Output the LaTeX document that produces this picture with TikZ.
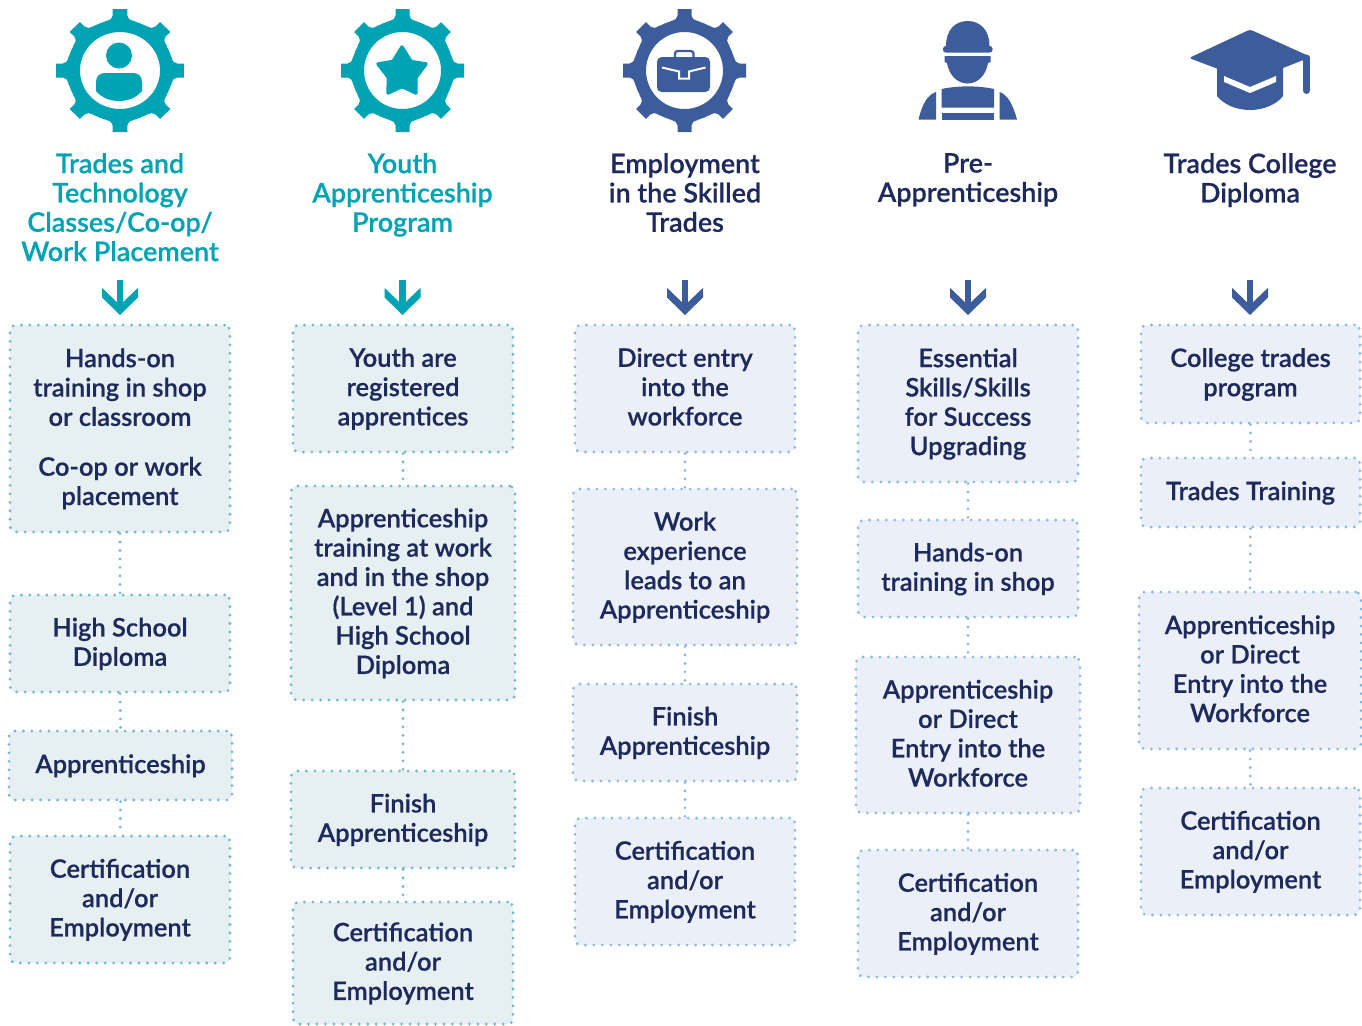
\documentclass[tikz,border=0pt]{standalone}
\usepackage{fontspec}
\setmainfont[FakeBold=0.5]{Lato Semibold}
\usetikzlibrary{arrows.meta}
\definecolor{teal}{HTML}{00A3B4}
\definecolor{blueic}{HTML}{3C5C9B}
\definecolor{navy}{HTML}{1F2A5C}
\definecolor{tfill}{HTML}{E6F0F3}
\definecolor{tdot}{HTML}{6DB9CB}
\definecolor{bfill}{HTML}{EBF0F8}
\definecolor{bdot}{HTML}{8CB8E2}
\pgfdeclarearrow{name=Chevron,
  setup code={\pgfarrowssettipend{0pt}\pgfarrowssetlineend{-6pt}\pgfarrowssetbackend{-15.2pt}\pgfarrowssetvisualbackend{-6pt}},
  drawing code={%
    \pgfpathmoveto{\pgfqpoint{0pt}{0pt}}%
    \pgfpathlineto{\pgfqpoint{-13.2pt}{13.5pt}}%
    \pgfpathlineto{\pgfqpoint{-20.4pt}{13.5pt}}%
    \pgfpathlineto{\pgfqpoint{-9.8pt}{2.5pt}}%
    \pgfpathlineto{\pgfqpoint{-9.8pt}{-2.5pt}}%
    \pgfpathlineto{\pgfqpoint{-20.4pt}{-13.5pt}}%
    \pgfpathlineto{\pgfqpoint{-13.2pt}{-13.5pt}}%
    \pgfpathclose\pgfusepathqfill},
  defaults={}}
\tikzset{
  x=0.75pt,y=-0.75pt,
  bx/.style={rounded corners=4pt,line width=2.3pt,dash pattern=on 0pt off 6.35pt,line cap=round,
    text=navy,font=\fontsize{19.1}{22}\selectfont,inner sep=0pt},
  tealbox/.style={bx,draw=tdot,fill=tfill},
  bluebox/.style={bx,draw=bdot,fill=bfill},
  tealconn/.style={draw=tdot,line width=2.3pt,dash pattern=on 0pt off 6.35pt,line cap=round},
  blueconn/.style={draw=bdot,line width=2.3pt,dash pattern=on 0pt off 6.35pt,line cap=round},
  ttl/.style={align=center,anchor=north,inner sep=0pt,font=\fontsize{20.2}{22}\selectfont},
  dnarrow/.style={line width=5pt,-{Chevron}},
}
\newcommand{\bxn}[7]{%
  \pgfmathsetmacro{\cxx}{(#3+#5)/2}\pgfmathsetmacro{\cyy}{(#4+#6)/2}%
  \pgfmathsetmacro{\ww}{(#5-#3)*0.75}\pgfmathsetmacro{\hh}{(#6-#4)*0.75}%
  \node[#1,minimum width=\ww pt,minimum height=\hh pt] (#2) at (\cxx,\cyy) {\raisebox{-1.3pt}[\height][\depth]{\begin{tabular}{@{}c@{}}#7\end{tabular}}};}
\newcommand{\gearicon}[5]{% cx cy R xscale colour
  \begin{scope}[shift={(#1,#2)},xscale=#4]
    \fill[#5,even odd rule] (0,0) circle[radius=51] (0,0) circle[radius=38.5];
    \foreach \a in {0,45,...,315}{
      \fill[#5,rotate=\a] (-7,-#3) -- (7,-#3) -- (7,-55) .. controls (7,-52) and (9,-50.5) .. (15,-49) -- (-15,-49) .. controls (-9,-50.5) and (-7,-52) .. (-7,-55) -- cycle;
    }
  \end{scope}}
\begin{document}
\begin{tikzpicture}
\useasboundingbox (0,0) rectangle (1362,1025);
% Gears
\gearicon{120}{70.5}{61.5}{1.04}{teal}
\gearicon{402.5}{70.5}{61.5}{1}{teal}
\gearicon{684.5}{70.5}{61.5}{1}{blueic}
% person
\fill[teal] (119,55.5) circle[radius=13];
\fill[teal] (96,82) .. controls (96,76) and (100,73) .. (105,73) -- (133,73) .. controls (138,73) and (142,76) .. (142,82) -- (142,91) .. controls (136,98) and (128,101) .. (119,101) .. controls (110,101) and (102,98) .. (96,91) -- cycle;
% star
\fill[teal,draw=teal,line width=2.6pt,line join=round] (402,47) -- (411,61.5) -- (426,64) -- (416,77.5) -- (416,93) -- (402,86.5) -- (388,93) -- (388.5,77.5) -- (378,64) -- (393,61.5) -- cycle;
% briefcase
\draw[blueic,line width=1.7pt,rounded corners=2pt] (675,58) -- (675,51) -- (693.5,51) -- (693.5,58);
\fill[blueic,rounded corners=3.5pt] (657,57) rectangle (710,92);
\draw[white,line width=1.5pt,line join=miter] (662,67.5) -- (679,71.5) -- (679,78.5) -- (689,78.5) -- (689,71.5) -- (705.5,67.5);
% worker
\fill[blueic] (946,46) .. controls (946,30) and (955,21) .. (967.7,21) .. controls (980,21) and (989.5,30) .. (989.5,46) -- cycle;
\fill[blueic,rounded corners=2pt] (943,46) rectangle (992.5,52.5);
\fill[blueic] (944.5,56) -- (990.5,56) -- (990.5,62) -- (988,63) .. controls (986,75) and (978,83.5) .. (967.7,83.5) .. controls (957,83.5) and (949,75) .. (947,63) -- (944.5,62) -- cycle;
\fill[blueic] (941.5,89) .. controls (958,85.5) and (978,85.5) .. (994,89) -- (994,107.5) -- (941.5,107.5) -- cycle;
\fill[blueic] (941.5,113) rectangle (994,119.5);
\fill[blueic] (918.5,119.5) .. controls (922,105) and (927,95) .. (936,92) -- (936,119.5) -- cycle;
\fill[blueic] (1017,119.5) .. controls (1013,105) and (1008,95) .. (999.5,92) -- (999.5,119.5) -- cycle;
% graduation cap
\fill[blueic] (1217,68) -- (1283,68) -- (1283,96) .. controls (1276,105) and (1263,110) .. (1250,110) .. controls (1237,110) and (1224,105) .. (1217,96) -- cycle;
\fill[white] (1224,76) -- (1250,87) -- (1276,76) -- (1276,82) -- (1250,93) -- (1224,82) -- cycle;
\fill[blueic,rounded corners=2pt] (1250,29.5) -- (1311,57) -- (1250,81) -- (1189,58) -- cycle;
\draw[blueic,line width=5.2pt,line cap=round] (1306.5,58) -- (1306.5,90.5);
% Titles
\node[ttl,text=teal] (t1) at (120,152.9) {Trades and\\Technology\\Classes/Co-op/\\Work Placement};
\node[ttl,text=teal] (t2) at (402.5,152.9) {Youth\\Apprenticeship\\Program};
\node[ttl,text=navy] (t3) at (685,152.9) {Employment\\in the Skilled\\Trades};
\node[ttl,text=navy] (t4) at (968,152.9) {Pre-\\Apprenticeship};
\node[ttl,text=navy] (t5) at (1250,152.9) {Trades College\\Diploma};
% Boxes col 1
\bxn{tealbox}{a1}{10}{325}{230}{532}{Hands-on\\training in shop\\or classroom\\[15.4pt]Co-op or work\\placement}
\bxn{tealbox}{a2}{10}{595}{230}{692}{High School\\Diploma}
\bxn{tealbox}{a3}{9}{731}{232}{800}{Apprenticeship}
\bxn{tealbox}{a4}{10}{836}{230}{963}{Certification\\and/or\\Employment}
% col 2
\bxn{tealbox}{b1}{293}{325}{513}{452}{Youth are\\registered\\apprentices}
\bxn{tealbox}{b2}{291}{486}{515}{700}{Apprenticeship\\training at work\\and in the shop\\(Level 1) and\\High School\\Diploma}
\bxn{tealbox}{b3}{291}{771}{515}{868}{Finish\\Apprenticeship}
\bxn{tealbox}{b4}{293}{902}{513}{1024}{Certification\\and/or\\Employment}
% col 3
\bxn{bluebox}{c1}{575}{325}{795}{452}{Direct entry\\into the\\workforce}
\bxn{bluebox}{c2}{573}{489}{797}{645}{Work\\experience\\leads to an\\Apprenticeship}
\bxn{bluebox}{c3}{573}{684}{797}{781}{Finish\\Apprenticeship}
\bxn{bluebox}{c4}{575}{818}{795}{945}{Certification\\and/or\\Employment}
% col 4
\bxn{bluebox}{d1}{858}{325}{1078}{482}{Essential\\Skills/Skills\\for Success\\Upgrading}
\bxn{bluebox}{d2}{858}{520}{1078}{617}{Hands-on\\training in shop}
\bxn{bluebox}{d3}{856}{657}{1080}{813}{Apprenticeship\\or Direct\\Entry into the\\Workforce}
\bxn{bluebox}{d4}{858}{850}{1078}{977}{Certification\\and/or\\Employment}
% col 5
\bxn{bluebox}{e1}{1141}{325}{1360}{423}{College trades\\program}
\bxn{bluebox}{e2}{1141}{458}{1360}{527}{Trades Training}
\bxn{bluebox}{e3}{1139}{592}{1361}{749}{Apprenticeship\\or Direct\\Entry into the\\Workforce}
\bxn{bluebox}{e4}{1141}{788}{1360}{915}{Certification\\and/or\\Employment}
% Connectors
\foreach \p/\q in {a1/a2,a2/a3,a3/a4,b1/b2,b2/b3,b3/b4}{\draw[tealconn] (\p.south) -- (\q.north);}
\foreach \p/\q in {c1/c2,c2/c3,c3/c4,d1/d2,d2/d3,d3/d4,e1/e2,e2/e3,e3/e4}{\draw[blueconn] (\p.south) -- (\q.north);}
% Arrows
\foreach \n/\x/\c in {1/120/teal,2/402.5/teal,3/685/blueic,4/968/blueic,5/1250/blueic}{
  \coordinate (s\n) at (\x,280);
  \coordinate (e\n) at (\x,315);
  \draw[dnarrow,draw=\c,color=\c] (s\n) -- (e\n);
}
\end{tikzpicture}
\end{document}
